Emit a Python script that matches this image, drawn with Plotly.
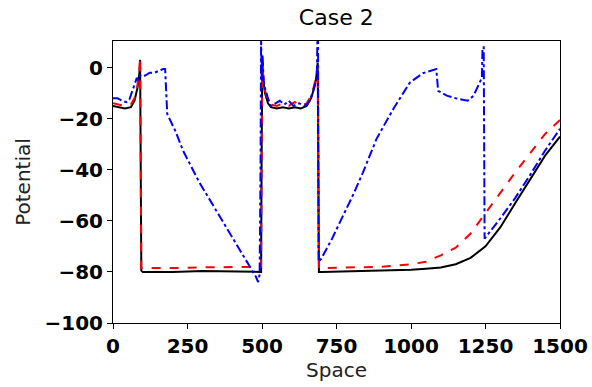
import plotly.graph_objects as go

# Black solid series
black_x = [0, 20, 40, 60, 72, 82, 88, 91, 93, 95, 100, 200, 300, 400, 480, 497, 499, 501, 504, 510, 520, 530,
           550, 570, 590, 610, 630, 650, 665, 675, 682, 687, 689, 691, 700, 800, 900, 1000, 1050, 1100, 1150,
           1200, 1250, 1300, 1350, 1400, 1450, 1500]
black_y = [-15, -15.5, -16, -15.5, -13, -8, -3, 3, -30, -79.5, -80, -80, -79.6, -79.8, -80, -80, -30, 2, -4,
           -10, -14, -15.5, -16, -15.5, -16, -15.5, -16, -15, -12, -8, -4, 2, -40, -80, -80, -79.8, -79.6, -79.2,
           -78.8, -78.3, -77, -74.5, -70, -62.5, -53, -44, -34.5, -27]

# Red dashed series
red_x = [0, 20, 40, 60, 72, 82, 88, 91, 93, 95, 100, 200, 300, 400, 480, 497, 499, 501, 504, 510, 520, 530,
         550, 570, 590, 610, 630, 650, 665, 675, 682, 687, 689, 691, 700, 800, 900, 1000, 1050, 1100, 1150,
         1200, 1250, 1300, 1350, 1400, 1450, 1500]
red_y = [-14, -14.5, -15, -14.5, -12, -7, -2, 4, -30, -78.5, -78.5, -78.5, -78.2, -78, -78, -78, -30, 2.3, -3,
         -9, -13, -14.5, -15, -14, -15, -13.5, -15, -14, -11, -7, -3, 0.4, -40, -78.5, -78.5, -78.3, -78, -77,
         -76, -73.5, -70.5, -65, -57, -49, -41, -33.5, -26, -20.5]

# Blue dash-dot series
blue_x = [0, 15, 30, 45, 55, 65, 72, 80, 85, 90, 100, 110, 123, 140, 155, 168, 175, 178, 182, 210, 235, 290,
          347, 400, 459, 480, 487, 492, 495, 497, 499, 502, 505, 510, 520, 530, 545, 560, 575, 590, 605, 625,
          645, 660, 672, 680, 684, 686, 688, 690, 699, 735, 772, 805, 839, 884, 940, 996, 1040, 1085, 1091,
          1120, 1150, 1190, 1210, 1230, 1238, 1240, 1244, 1247, 1250, 1300, 1350, 1400, 1450, 1500]
blue_y = [-12, -12, -13, -13.5, -12.5, -9, -7, -4, -5, -3, -3.5, -3, -2, -2, -1.2, -0.6, -0.6, -12, -18.2,
          -25, -32.5, -45, -56, -66.5, -78, -82, -84, -81, -40, 12, -5, 5, -5, -8, -12, -15, -14, -13, -14.5,
          -13, -15, -14, -15, -13, -9, -6, -4, 12, 12, -76, -74.8, -67, -58, -50, -41, -28, -16.3, -5.9, -2.2,
          -0.6, -9.1, -11, -12, -13, -11, -6, -4, 8, 8, -67, -66.5, -59, -51, -42, -32.5, -24]

x_ticks = [0, 250, 500, 750, 1000, 1250, 1500]
y_ticks = [0, -20, -40, -60, -80, -100]

fig = go.Figure()
fig.add_trace(go.Scatter(x=black_x, y=black_y, mode="lines",
                         line=dict(color="black", width=2), showlegend=False))
fig.add_trace(go.Scatter(x=red_x, y=red_y, mode="lines",
                         line=dict(color="red", width=2, dash="dash"), showlegend=False))
fig.add_trace(go.Scatter(x=blue_x, y=blue_y, mode="lines",
                         line=dict(color="blue", width=2, dash="dashdot"), showlegend=False))

axis_common = dict(showline=True, linecolor="black", linewidth=1, mirror=True, automargin=False,
                   ticks="outside", ticklen=5, tickcolor="black", showgrid=False, zeroline=False,
                   tickfont=dict(family="DejaVu Sans", size=20, color="black", weight="bold"))

fig.update_xaxes(range=[0, 1500], tickvals=x_ticks, ticktext=[str(v) for v in x_ticks],
                 title=dict(text="Space", font=dict(family="DejaVu Sans", size=20, color="#222"), standoff=4),
                 **axis_common)
fig.update_yaxes(range=[-100, 10.4], tickvals=y_ticks, ticktext=[("−" + str(-v)) if v < 0 else str(v) for v in y_ticks],
                 title=dict(text="Potential", font=dict(family="DejaVu Sans", size=20, color="#222"), standoff=8),
                 **axis_common)

fig.update_layout(
    width=592, height=387,
    margin=dict(l=113, r=32, t=41, b=64),
    paper_bgcolor="white", plot_bgcolor="white",
    title=dict(text="Case 2", x=0.568, xanchor="center", y=1 - 17 / 387, yanchor="middle",
               font=dict(family="DejaVu Sans", size=22, color="black")),
)

fig.write_html("out.html")
